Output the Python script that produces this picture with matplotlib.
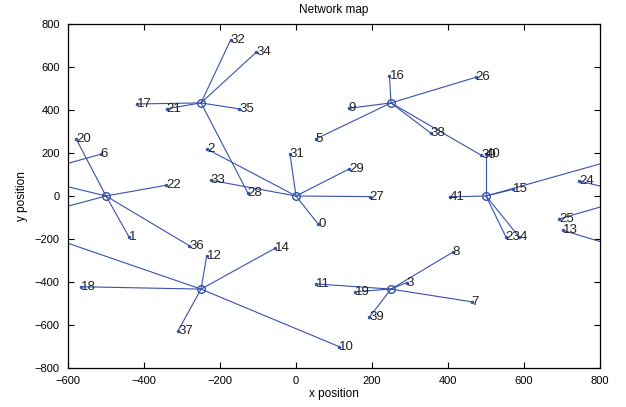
import matplotlib
matplotlib.use('Agg')
import matplotlib.pyplot as plt

plt.rcParams['font.family'] = ['Liberation Sans', 'DejaVu Sans']

# hub positions (hexagonal layout)
hub_x = [0, -500, -250, 250, 500, -250, 250]
hub_y = [0, 0, 433, 433, 0, -433, -433]

# labelled nodes 0..41 and the hub each one links to (-1 = only a far link)
node_x = [59, -439, -233, 291, 588, 52, -514, 462, 412, 139,
          114, 53, -235, 703, -55, 572, 246, -418, -567, 156,
          -579, -340, -342, 552, 745, 692, 473, 194, -127, 140,
          487, -16, -172, -224, -105, -149, -281, -310, 355, 193,
          500, 404]
node_y = [-132, -192, 217, -403, -192, 265, 194, -492, -262, 408,
          -701, -409, -279, -160, -243, 31, 558, 428, -422, -445,
          267, 406, 50, -189, 70, -107, 552, -3, 15, 126,
          190, 197, 726, 73, 668, 405, -231, -626, 292, -564,
          195, -4]
node_hub = [0, 1, 0, 6, 4, 3, -1, 6, 6, 3,
            5, 6, 5, -1, 5, 4, 3, 2, 5, 6,
            1, 2, 1, 4, -1, -1, 3, 0, 2, 0,
            3, 0, 2, 0, 2, 2, 1, 5, 3, 6,
            4, 4]

# links that run off the visible map
far_x = [-700, -700, -700, -700, 900, 900, 900, 900]
far_y = [86, -94, -159, 103, 199, 3, 0, -265]
far_from = ['H1', 'H1', 'H5', 'N6', 'H4', 'N24', 'N25', 'N13']

blue = '#3552ad'

fig = plt.figure(figsize=(6.26, 4.07), dpi=100)
ax = fig.add_axes([68 / 626, 1 - 368 / 407, 532 / 626, 344 / 407])

for i in range(len(node_x)):
    h = node_hub[i]
    if h >= 0:
        ax.plot([hub_x[h], node_x[i]], [hub_y[h], node_y[i]],
                color=blue, lw=0.8, zorder=2)

for fx, fy, src in zip(far_x, far_y, far_from):
    k = int(src[1:])
    if src[0] == 'H':
        sx, sy = hub_x[k], hub_y[k]
    else:
        sx, sy = node_x[k], node_y[k]
    ax.plot([sx, fx], [sy, fy], color=blue, lw=0.8, zorder=2)

ax.plot(hub_x, hub_y, 'o', mfc='none', mec=blue, ms=5.5, mew=1.0, zorder=3)
ax.plot(node_x, node_y, '.', color=blue, ms=3, zorder=3)

for i in range(len(node_x)):
    ax.text(node_x[i], node_y[i], str(i), ha='left', va='center',
            fontsize=9.5, color='#222222', zorder=4, clip_on=True)

ax.set_xlim(-600, 800)
ax.set_ylim(-800, 800)
ax.set_xticks(range(-600, 801, 200))
ax.set_yticks(range(-800, 801, 200))
ax.tick_params(direction='in', length=4, width=0.8, top=True, right=True,
               labelsize=8, pad=6)
for s in ax.spines.values():
    s.set_linewidth(0.9)

ax.set_title('Network map', fontsize=8.5, pad=8)
ax.set_xlabel('x position', fontsize=8.5, labelpad=1)
ax.set_ylabel('y position', fontsize=8.5, labelpad=5)

fig.savefig('out.png', dpi=100)
